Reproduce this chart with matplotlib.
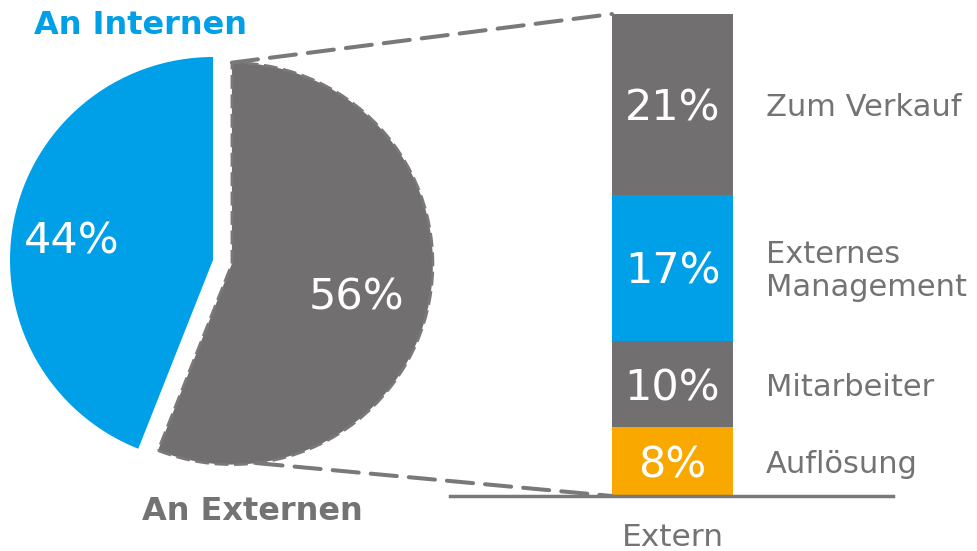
import numpy as np
import matplotlib
matplotlib.use("Agg")
import matplotlib.pyplot as plt
from matplotlib.patches import ConnectionPatch
from matplotlib.transforms import offset_copy

plt.rcParams['font.family'] = ['DejaVu Sans']

# ---- data ----
pie_labels = ["An Internen", "An Externen"]
pie_values = [44, 56]
bar_category = "Extern"
bar_labels = ["Auflösung", "Mitarbeiter", "Externes\nManagement", "Zum Verkauf"]
bar_values = [8, 10, 17, 21]

BLUE = "#00A0E9"
GRAY = "#726F70"
ORANGE = "#F9A800"
TEXT_GRAY = "#737373"
LINE_GRAY = "#7A7878"
bar_colors = [ORANGE, GRAY, BLUE, GRAY]

W, H = 978, 551
fig = plt.figure(figsize=(W / 100, H / 100), dpi=100)

# ---- pie axes ----
R_PX = 203.0
cx, cy = 213.0, 260.0
px_l, px_r, px_t, px_b = 0.0, 460.0, 30.0, 520.0
ax_pie = fig.add_axes([px_l / W, (H - px_b) / H, (px_r - px_l) / W, (px_b - px_t) / H])
explode_d = 0.095
wedges, _ = ax_pie.pie(pie_values, colors=[BLUE, GRAY], startangle=90,
                       counterclock=True, explode=[0, explode_d], radius=1,
                       wedgeprops=dict(linewidth=0))
wedges[1].set_radius(0.99)
wedges[1].set_edgecolor(LINE_GRAY)
wedges[1].set_linewidth(2.0)
wedges[1].set_linestyle((0, (5, 2)))
ax_pie.set_aspect('auto')
ax_pie.set_xlim((px_l - cx) / R_PX, (px_r - cx) / R_PX)
ax_pie.set_ylim(-(px_b - cy) / R_PX, (cy - px_t) / R_PX)
ax_pie.axis('off')

start = 90.0
mids = []
for v in pie_values:
    mids.append(start + 360 * v / 100 / 2)
    start += 360 * v / 100
gray_mid = np.deg2rad(mids[1])
gdx, gdy = explode_d * np.cos(gray_mid), explode_d * np.sin(gray_mid)
gr = 0.99

down_pie = offset_copy(ax_pie.transData, fig=fig, x=0, y=-4, units='dots')
ax_pie.text((72 - cx) / R_PX, -(237 - cy) / R_PX, f"{pie_values[0]}%", color="white",
            fontsize=31, ha="center", va="center", transform=down_pie)
ax_pie.text((357 - cx) / R_PX, -(293 - cy) / R_PX, f"{pie_values[1]}%", color="white",
            fontsize=31, ha="center", va="center", transform=down_pie)
ax_pie.text((141 - cx) / R_PX, -(22 - cy) / R_PX, pie_labels[0], color=BLUE,
            fontsize=23, fontweight="bold", ha="center", va="center", transform=down_pie)
ax_pie.text((252 - cx) / R_PX, -(507 - cy) / R_PX, pie_labels[1], color=TEXT_GRAY,
            fontsize=23, fontweight="bold", ha="center", va="center", clip_on=False,
            transform=down_pie)

# ---- bar axes ----
B_PX_PER_UNIT_X = 121.0
bar_cx = 672.5
bx_l, bx_r = 450.0, 978.0
by_b, by_t = 496.0, 14.0
total = sum(bar_values)
ax_bar = fig.add_axes([bx_l / W, (H - by_b) / H, (bx_r - bx_l) / W, (by_b - by_t) / H])
ax_bar.set_xlim((bx_l - bar_cx) / B_PX_PER_UNIT_X, (bx_r - bar_cx) / B_PX_PER_UNIT_X)
ax_bar.set_ylim(0, total)
ax_bar.axis('off')
px_per_y = (by_b - by_t) / total
down_bar = offset_copy(ax_bar.transData, fig=fig, x=0, y=-4, units='dots')
down_lab = offset_copy(ax_bar.transData, fig=fig, x=0, y=-3, units='dots')

bottom = 0
for v, c, lab in zip(bar_values, bar_colors, bar_labels):
    ax_bar.bar(0, v, bottom=bottom, width=1.0, color=c, linewidth=0)
    ax_bar.text(0, bottom + v / 2, f"{v}%", color="white", fontsize=31,
                ha="center", va="center", transform=down_bar)
    ax_bar.text((766 - bar_cx) / B_PX_PER_UNIT_X, bottom + v / 2, lab, color=TEXT_GRAY,
                fontsize=22, ha="left", va="center", linespacing=1.2, clip_on=False,
                transform=down_lab)
    bottom += v

ax_bar.axhline(0, xmin=0, xmax=(893 - bx_l) / (bx_r - bx_l), color=LINE_GRAY,
               linewidth=2.5, clip_on=False, zorder=3)
ax_bar.text(0, -41 / px_per_y, bar_category, color=TEXT_GRAY, fontsize=22.5,
            ha="center", va="center", clip_on=False)

# ---- connector lines ----
top_pt = (gdx + gr * np.cos(np.deg2rad(90)), gdy + gr * np.sin(np.deg2rad(90)))
bot_ang = np.deg2rad(-83)
bot_pt = (gdx + gr * np.cos(bot_ang), gdy + gr * np.sin(bot_ang))
for p, q in [(top_pt, (-0.5, total)), (bot_pt, (-0.5, 0))]:
    con = ConnectionPatch(xyA=p, coordsA=ax_pie.transData, xyB=q, coordsB=ax_bar.transData,
                          color=LINE_GRAY, linewidth=2.9, linestyle=(0, (6.5, 3)))
    fig.add_artist(con)

fig.savefig("out.png", dpi=100)
